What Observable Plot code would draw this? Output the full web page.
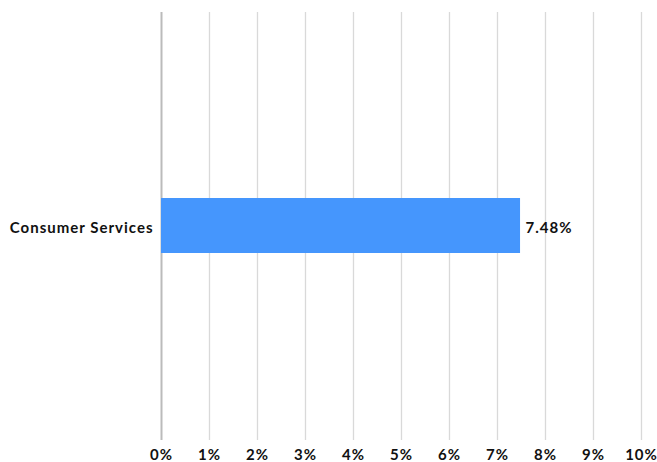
<!DOCTYPE html>
<html><head><meta charset="utf-8">
<script src="https://cdn.jsdelivr.net/npm/d3@7"></script>
<script src="https://cdn.jsdelivr.net/npm/@observablehq/plot@0.6"></script>
<style>
body{margin:0;background:#fff;}
svg{font-family:Lato,"Open Sans",sans-serif;}
svg text{letter-spacing:1px;}
</style></head><body>
<div id="chart"></div>
<script>
const categories = ["Consumer Services"];
const values = [7.48];
const xTicks = [0,1,2,3,4,5,6,7,8,9,10];
const data = categories.map((c,i)=>({category:c, value:values[i]}));

const chart = Plot.plot({
  width: 657, height: 462,
  marginLeft: 161, marginRight: 16, marginTop: 12, marginBottom: 22,
  style: {fontFamily: "Lato, 'Open Sans', sans-serif", fontSize: "15px", fontWeight: 700, color: "#111"},
  x: {domain: [0,10]},
  y: {domain: categories, padding: 0},
  marks: [
    Plot.ruleX(xTicks.filter(d=>d>0), {stroke: "#d9d9d9", strokeWidth: 1.3}),
    Plot.ruleX([0], {stroke: "#bbbbbb", strokeWidth: 2}),
    Plot.barX(data, {x: "value", y: "category", fill: "#4596fd", insetTop: 186, insetBottom: 187}),
    Plot.text(data, {x: "value", y: "category", text: d => d.value.toFixed(2) + "%", textAnchor: "start", dx: 5, dy: 2, fontSize: 15, fontWeight: 700, fill: "#111"}),
    Plot.axisX(xTicks, {tickSize: 0, tickPadding: 9, tickFormat: d => d + "%", fontSize: 15, fontWeight: 700, fill: "#111", label: null}),
    Plot.axisY({tickSize: 0, tickPadding: 8, fontSize: 15, fontWeight: 700, fill: "#111", label: null, dy: 2})
  ]
});
document.getElementById("chart").appendChild(chart);
</script>
</body></html>
